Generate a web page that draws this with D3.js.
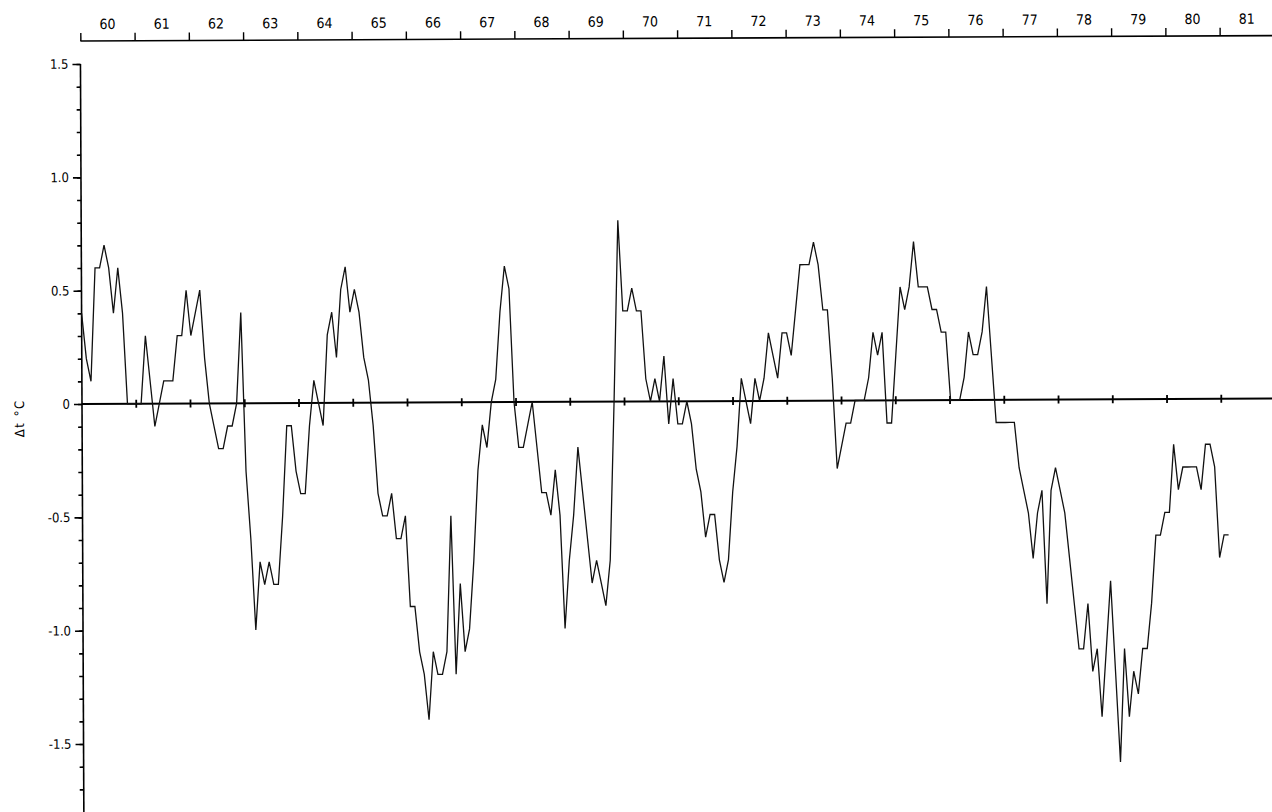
<!DOCTYPE html>
<html><head><meta charset="utf-8">
<script src="https://cdn.jsdelivr.net/npm/d3@7"></script>
<style>body{margin:0;background:#fff}svg{display:block}</style>
</head><body><svg id="c" width="1272" height="812"></svg>
<script>
// ---- data ----
const yearStart = 1960;
const yearEnd = 1981;
const yearLabels = ["60","61","62","63","64","65","66","67","68","69","70","71","72","73","74","75","76","77","78","79","80","81"];
const yMajorTicks = [1.5, 1.0, 0.5, 0, -0.5, -1.0, -1.5];
const yMajorLabels = ["1.5","1.0","0.5","0","-0.5","-1.0","-1.5"];
const yMinorTicks = d3.range(-17, 16).map(d => d / 10);
const yTitle = "\u0394t \u00B0C";
// monthly temperature anomaly, Jan 1960 .. Jan 1981
const deltaT = [
 0.4, 0.2, 0.1, 0.6, 0.6, 0.7, 0.6, 0.4, 0.6, 0.4, 0.0, 0.0,   // 1960
 0.0, 0.0, 0.3, 0.1,-0.1, 0.0, 0.1, 0.1, 0.1, 0.3, 0.3, 0.5,   // 1961
 0.3, 0.4, 0.5, 0.2, 0.0,-0.1,-0.2,-0.2,-0.1,-0.1, 0.0, 0.4,   // 1962
-0.3,-0.6,-1.0,-0.7,-0.8,-0.7,-0.8,-0.8,-0.5,-0.1,-0.1,-0.3,   // 1963
-0.4,-0.4,-0.1, 0.1, 0.0,-0.1, 0.3, 0.4, 0.2, 0.5, 0.6, 0.4,   // 1964
 0.5, 0.4, 0.2, 0.1,-0.1,-0.4,-0.5,-0.5,-0.4,-0.6,-0.6,-0.5,   // 1965
-0.9,-0.9,-1.1,-1.2,-1.4,-1.1,-1.2,-1.2,-1.1,-0.5,-1.2,-0.8,   // 1966
-1.1,-1.0,-0.7,-0.3,-0.1,-0.2, 0.0, 0.1, 0.4, 0.6, 0.5, 0.0,   // 1967
-0.2,-0.2,-0.1, 0.0,-0.2,-0.4,-0.4,-0.5,-0.3,-0.5,-1.0,-0.7,   // 1968
-0.5,-0.2,-0.4,-0.6,-0.8,-0.7,-0.8,-0.9,-0.7, 0.0, 0.8, 0.4,   // 1969
 0.4, 0.5, 0.4, 0.4, 0.1, 0.0, 0.1, 0.0, 0.2,-0.1, 0.1,-0.1,   // 1970
-0.1, 0.0,-0.1,-0.3,-0.4,-0.6,-0.5,-0.5,-0.7,-0.8,-0.7,-0.4,   // 1971
-0.2, 0.1, 0.0,-0.1, 0.1, 0.0, 0.1, 0.3, 0.2, 0.1, 0.3, 0.3,   // 1972
 0.2, 0.4, 0.6, 0.6, 0.6, 0.7, 0.6, 0.4, 0.4, 0.1,-0.3,-0.2,   // 1973
-0.1,-0.1, 0.0, 0.0, 0.0, 0.1, 0.3, 0.2, 0.3,-0.1,-0.1, 0.2,   // 1974
 0.5, 0.4, 0.5, 0.7, 0.5, 0.5, 0.5, 0.4, 0.4, 0.3, 0.3, 0.0,   // 1975
 0.0, 0.0, 0.1, 0.3, 0.2, 0.2, 0.3, 0.5, 0.2,-0.1,-0.1,-0.1,   // 1976
-0.1,-0.1,-0.3,-0.4,-0.5,-0.7,-0.5,-0.4,-0.9,-0.4,-0.3,-0.4,   // 1977
-0.5,-0.7,-0.9,-1.1,-1.1,-0.9,-1.2,-1.1,-1.4,-1.1,-0.8,-1.2,   // 1978
-1.6,-1.1,-1.4,-1.2,-1.3,-1.1,-1.1,-0.9,-0.6,-0.6,-0.5,-0.5,   // 1979
-0.2,-0.4,-0.3,-0.3,-0.3,-0.3,-0.4,-0.2,-0.2,-0.3,-0.7,-0.6,   // 1980
-0.6                                                           // 1981
];

// ---- drawing ----
const svg = d3.select("#c");
const font = "'DejaVu Sans Condensed','Liberation Sans Narrow','DejaVu Sans',sans-serif";

const xMonth = d3.scaleLinear().domain([0, deltaT.length - 1]).range([82, 1228]);
const xYear = d3.scaleLinear().domain([yearStart, yearEnd]).range([82, 1221.3]);
const y = d3.scaleLinear().domain([-1.8, 1.5]).range([812, 64]);

const g = svg.append("g").attr("transform", `rotate(-0.26, 82, ${y(0)})`);

// top year axis
const topY = 41;
const topAxis = g.append("g").attr("transform", `translate(0,${topY})`)
  .call(d3.axisTop(xYear).tickValues(d3.range(yearStart, yearEnd + 1)).tickSize(8).tickFormat(""));
topAxis.select(".domain").remove();
topAxis.selectAll(".tick line").attr("stroke", "#000").attr("stroke-width", 1.4);
g.append("line").attr("x1", xYear(yearStart)).attr("x2", 1275).attr("y1", topY).attr("y2", topY)
  .attr("stroke", "#000").attr("stroke-width", 1.6);
g.append("g").selectAll("text").data(yearLabels).join("text")
  .attr("x", (d, i) => xYear(yearStart + i + 0.5))
  .attr("y", topY - 12)
  .attr("text-anchor", "middle")
  .attr("font-family", font).attr("font-size", 14)
  .text(d => d);

// left value axis
g.append("line").attr("x1", 82).attr("x2", 82).attr("y1", y(1.5)).attr("y2", 815)
  .attr("stroke", "#000").attr("stroke-width", 1.6);
const minorAx = g.append("g").attr("transform", "translate(82,0)")
  .call(d3.axisLeft(y).tickValues(yMinorTicks).tickSize(4).tickFormat(""));
minorAx.select(".domain").remove();
minorAx.selectAll(".tick line").attr("stroke", "#000").attr("stroke-width", 1.6);
const majorAx = g.append("g").attr("transform", "translate(82,0)")
  .call(d3.axisLeft(y).tickValues(yMajorTicks).tickSize(8).tickPadding(4)
    .tickFormat((d, i) => yMajorLabels[i]));
majorAx.select(".domain").remove();
majorAx.selectAll(".tick line").attr("stroke", "#000").attr("stroke-width", 1.6);
majorAx.selectAll(".tick text").attr("font-family", font).attr("font-size", 13).attr("fill", "#000");

// y title
g.append("text")
  .attr("transform", `translate(24,${418}) rotate(-90)`)
  .attr("text-anchor", "middle")
  .attr("font-family", font).attr("font-size", 13)
  .attr("letter-spacing", 1.5)
  .text(yTitle);

// zero line with year ticks
g.append("line").attr("x1", 82).attr("x2", 1275).attr("y1", y(0)).attr("y2", y(0))
  .attr("stroke", "#000").attr("stroke-width", 2);
g.append("g").selectAll("line").data(d3.range(yearStart + 1, yearEnd + 1)).join("line")
  .attr("x1", d => xYear(d)).attr("x2", d => xYear(d))
  .attr("y1", y(0) - 4).attr("y2", y(0) + 4)
  .attr("stroke", "#000").attr("stroke-width", 1.8);

// data line
const line = d3.line().x((d, i) => xMonth(i)).y(d => y(d));
g.append("path").datum(deltaT).attr("d", line)
  .attr("fill", "none").attr("stroke", "#111").attr("stroke-width", 1.3)
  .attr("stroke-linejoin", "miter");
</script>
</body></html>
